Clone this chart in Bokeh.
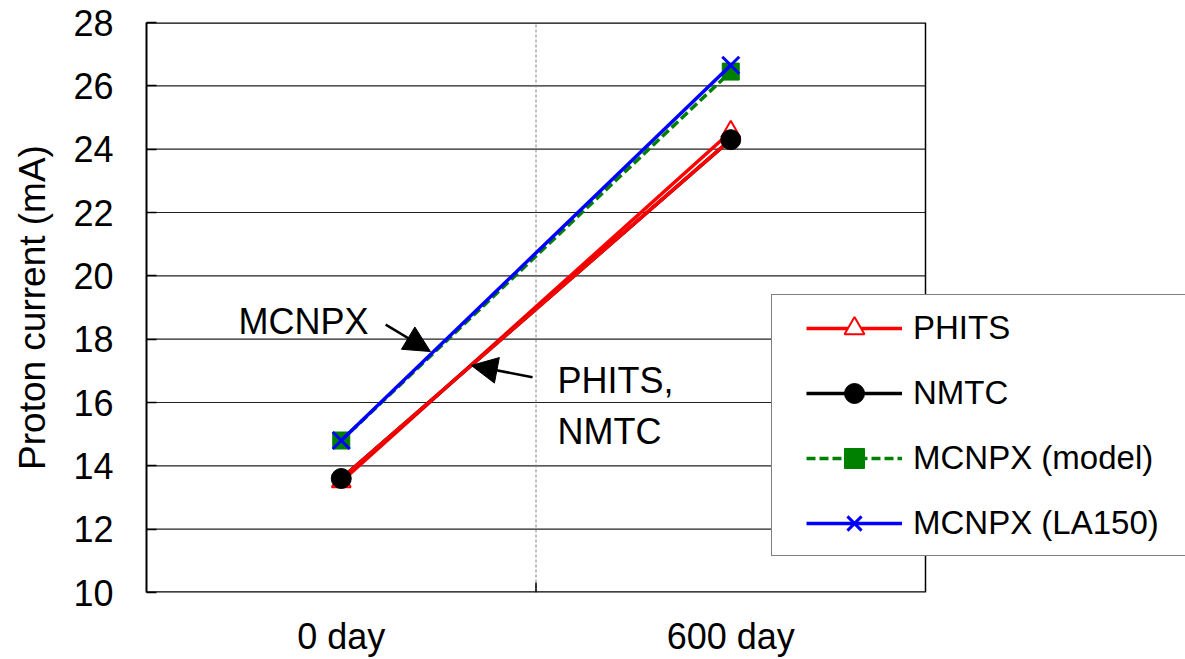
from bokeh.plotting import figure
from bokeh.models import (Range1d, FixedTicker, Legend, LegendItem,
                          Arrow, NormalHead)
from bokeh.core.properties import value
from bokeh.embed import file_html
from bokeh.resources import INLINE

# ---- data ----
categories = ["0 day", "600 day"]
phits = [13.5, 24.55]
nmtc = [13.6, 24.3]
mcnpx_model = [14.8, 26.45]
mcnpx_la150 = [14.8, 26.65]
y_ticks = [10, 12, 14, 16, 18, 20, 22, 24, 26, 28]

FONT = "Liberation Sans"
RED = "#FF0000"
GREEN = "#008000"
BLUE = "#0000FF"
LW = 3.5

# category positions (centres of equal bands on a numeric axis)
x_pos = [i + 0.5 for i in range(len(categories))]
n_cat = len(categories)
y_lo, y_hi = y_ticks[0], y_ticks[-1]

# layout: plot area 146..925 px wide; frame extended to canvas edge for legend
CANVAS_W, CANVAS_H = 1185, 659
F_LEFT, PLOT_RIGHT, F_TOP, F_BOTTOM = 146, 925, 22, 594
x_end = n_cat * (CANVAS_W - F_LEFT) / (PLOT_RIGHT - F_LEFT)

p = figure(width=CANVAS_W, height=CANVAS_H,
           x_range=Range1d(0, x_end),
           y_range=Range1d(y_lo, y_hi),
           output_backend="svg", toolbar_location=None,
           min_border_left=F_LEFT, min_border_right=0,
           min_border_top=F_TOP, min_border_bottom=CANVAS_H - F_BOTTOM)

p.outline_line_color = None
p.background_fill_color = "white"
p.xgrid.visible = False
p.ygrid.visible = False

# y axis
ya = p.yaxis[0]
ya.ticker = FixedTicker(ticks=y_ticks)
ya.major_tick_in = 10
ya.major_tick_out = 0
ya.minor_tick_line_color = None
ya.major_tick_line_color = "black"
ya.major_tick_line_width = 1.5
ya.axis_line_color = "black"
ya.axis_line_width = 2
ya.major_label_standoff = 33
ya.major_label_text_font = FONT
ya.major_label_text_font_size = "36px"
ya.major_label_text_color = "black"
ya.axis_label = "Proton current (mA)"
ya.axis_label_text_font = FONT
ya.axis_label_text_font_size = "37px"
ya.axis_label_text_font_style = "normal"
ya.axis_label_text_color = "black"
ya.axis_label_standoff = 17

# x axis (category labels at band centres)
xa = p.xaxis[0]
xa.ticker = FixedTicker(ticks=x_pos)
xa.major_label_overrides = {x: c for x, c in zip(x_pos, categories)}
xa.major_tick_line_color = None
xa.minor_tick_line_color = None
xa.axis_line_color = None
xa.major_label_standoff = 17
xa.major_label_text_font = FONT
xa.major_label_text_font_size = "36px"
xa.major_label_text_color = "black"

# horizontal grid lines within the plot area
inner = y_ticks[1:-1]
p.segment(x0=[0] * len(inner), y0=inner, x1=[n_cat] * len(inner), y1=inner,
          line_color="#222222", line_width=1.2)
# plot-area border (top, bottom, right)
p.segment(x0=[0, 0], y0=[y_hi, y_lo], x1=[n_cat, n_cat], y1=[y_hi, y_lo],
          line_color="black", line_width=2.5)
p.segment(x0=[n_cat], y0=[y_lo], x1=[n_cat], y1=[y_hi],
          line_color="black", line_width=1.5)

# vertical separator between categories + its inward tick
for b in range(1, n_cat):
    p.segment(x0=[b], y0=[y_lo], x1=[b], y1=[y_hi], line_color="#808080",
              line_width=1, line_dash="3 2")
    tick_len = 10 * (y_hi - y_lo) / (F_BOTTOM - F_TOP)
    p.segment(x0=[b], y0=[y_lo], x1=[b], y1=[y_lo + tick_len],
              line_color="black", line_width=1.5)

# ---- series ----
r_phits_line = p.line(x=x_pos, y=phits, line_color=RED, line_width=LW)
r_phits_pts = p.scatter(x=x_pos, y=phits, marker="triangle", size=19,
                        line_color=RED, fill_color="white", line_width=2)
# NMTC: black series line, drawn over in red as in the original figure
r_nmtc_black = p.line(x=x_pos, y=nmtc, line_color="black", line_width=LW)
r_nmtc_line = p.line(x=x_pos, y=nmtc, line_color=RED, line_width=LW)
r_nmtc_pts = p.scatter(x=x_pos, y=nmtc, marker="circle", size=20,
                       line_color="black", fill_color="black", line_width=1)
r_model_line = p.line(x=x_pos, y=mcnpx_model, line_color=GREEN,
                      line_width=LW, line_dash="9 4")
r_model_pts = p.scatter(x=x_pos, y=mcnpx_model, marker="square", size=17,
                        line_color=GREEN, fill_color=GREEN, line_width=1)
r_la_line = p.line(x=x_pos, y=mcnpx_la150, line_color=BLUE, line_width=LW)
r_la_pts = p.scatter(x=x_pos, y=mcnpx_la150, marker="x", size=24,
                     line_color=BLUE, line_width=3)

# legend-box dummy renderer
r_box = p.scatter(x=[], y=[], marker="square", alpha=0)

# ---- annotations ----
p.text(x=[0.236], y=[18.56], text=["MCNPX"], text_font=value(FONT),
       text_font_size="36px", text_baseline="alphabetic", text_align="left",
       text_color="black")
p.text(x=[1.055, 1.055], y=[16.71, 15.1], text=["PHITS,", "NMTC"],
       text_font=value(FONT), text_font_size="36px",
       text_baseline="alphabetic", text_align="left", text_color="black")

p.add_layout(Arrow(x_start=0.614, y_start=18.46, x_end=0.729, y_end=17.61,
                   line_color="black", line_width=2.5,
                   end=NormalHead(size=26, fill_color="black",
                                  line_color="black", line_width=1)))
p.add_layout(Arrow(x_start=0.991, y_start=16.80, x_end=0.834, y_end=17.17,
                   line_color="black", line_width=2.5,
                   end=NormalHead(size=26, fill_color="black",
                                  line_color="black", line_width=1)))

# ---- legend box (frame) ----
legend_box = Legend(items=[LegendItem(label=" ", renderers=[r_box])],
                    location=(625, 36), padding=0, margin=0, spacing=0,
                    glyph_width=430, glyph_height=260, label_standoff=0,
                    label_width=0, label_height=0, label_text_font_size="1px",
                    border_line_color="black", border_line_width=1.5,
                    background_fill_color="white", background_fill_alpha=1)
p.add_layout(legend_box)

legend = Legend(items=[
    LegendItem(label="PHITS", renderers=[r_phits_line, r_phits_pts]),
    LegendItem(label="NMTC", renderers=[r_nmtc_black, r_nmtc_pts]),
    LegendItem(label="MCNPX (model)", renderers=[r_model_line, r_model_pts]),
    LegendItem(label="MCNPX (LA150)", renderers=[r_la_line, r_la_pts]),
], location=(660, 44), padding=0, margin=0, spacing=15,
    glyph_width=96, glyph_height=50, label_standoff=11, label_height=50,
    label_text_font=FONT, label_text_font_size="33px",
    label_text_color="black",
    border_line_color=None, background_fill_alpha=0)
p.add_layout(legend)

open("out.html", "w").write(file_html(p, INLINE))
